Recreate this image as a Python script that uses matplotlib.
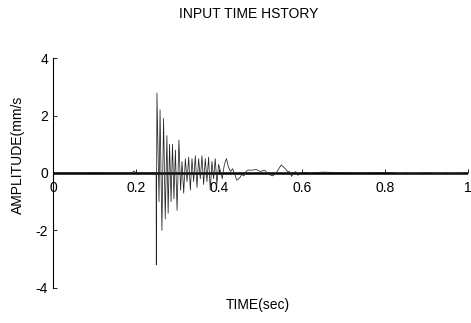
import numpy as np
import matplotlib.pyplot as plt

plt.rcParams['font.family'] = ['Liberation Sans', 'DejaVu Sans']
plt.rcParams['axes.unicode_minus'] = False

# time (sec) and amplitude
t = [0.0, 0.05, 0.1, 0.15, 0.19, 0.195, 0.2, 0.245, 0.2485, 0.249, 0.2505, 0.2555, 0.258,
     0.2625, 0.2665, 0.2705, 0.2745, 0.2775, 0.281, 0.2845, 0.288, 0.2915, 0.295, 0.299,
     0.3035, 0.3075, 0.311, 0.315, 0.319, 0.323, 0.327, 0.331, 0.335, 0.339, 0.343, 0.347,
     0.351, 0.355, 0.359, 0.363, 0.367, 0.371, 0.375, 0.379, 0.383, 0.387, 0.391, 0.395,
     0.399, 0.403, 0.408, 0.413, 0.418, 0.423, 0.428, 0.433, 0.438, 0.443, 0.45, 0.455,
     0.46, 0.465, 0.47, 0.48, 0.49, 0.5, 0.51, 0.52, 0.53, 0.54, 0.55, 0.56, 0.565, 0.57,
     0.575, 0.58, 0.585, 0.59, 0.6, 0.62, 0.65, 0.7, 0.75, 0.8, 0.85, 0.9, 0.95, 1.0]
amp = [0.0, 0.0, 0.01, 0.0, 0.0, 0.07, 0.0, 0.0, 0.0, -3.2, 2.78, -1.0, 2.2,
       -2.0, 1.9, -1.6, 1.3, -1.4, 1.0, -1.0, 1.0, -0.9, 0.8, -1.3,
       1.15, -0.6, 0.4, -0.7, 0.5, -0.3, 0.55, -0.6, 0.5, -0.3, 0.6, -0.5,
       0.5, -0.2, 0.6, -0.4, 0.5, -0.3, 0.55, -0.6, 0.4, -0.2, 0.5, -0.4,
       0.3, 0.1, -0.2, 0.3, 0.5, 0.2, 0.05, 0.15, -0.05, -0.25, -0.17, -0.05,
       -0.1, 0.05, 0.1, 0.1, 0.12, 0.05, 0.1, -0.05, -0.1, 0.05, 0.28, 0.15, 0.05, 0.05,
       -0.12, 0.0, 0.05, -0.08, 0.02, 0.0, 0.03, 0.01, 0.0, 0.02, -0.03, 0.0, -0.03, 0.0]

fig = plt.figure(figsize=(4.71, 3.23), dpi=100)
ax = fig.add_axes([0.1125, 0.1084, 0.881, 0.712])

ax.axhline(0, color='black', lw=1.8, zorder=1)
ax.plot(t, amp, color='#222222', lw=0.55, zorder=2)

ax.set_xlim(0, 1)
ax.set_ylim(-4, 4)
ax.set_xticks([0, 0.2, 0.4, 0.6, 0.8, 1])
ax.set_xticklabels(['0', '0.2', '0.4', '0.6', '0.8', '1'])
ax.set_yticks([-4, -2, 0, 2, 4])

ax.spines['top'].set_visible(False)
ax.spines['right'].set_visible(False)
ax.spines['bottom'].set_position(('data', 0))
ax.spines['bottom'].set_visible(False)
ax.spines['left'].set_linewidth(0.8)
ax.tick_params(axis='both', direction='in', length=3, width=0.6, labelsize=10)
ax.tick_params(axis='x', pad=6)

fig.text(0.527, 1 - 14 / 323, 'INPUT TIME HSTORY', ha='center', va='center', fontsize=10)
fig.text(0.548, 1 - 305 / 323, 'TIME(sec)', ha='center', va='center', fontsize=10)
fig.text(18 / 471, 1 - 155 / 323, 'AMPLITUDE(mm/s', ha='center', va='center',
         rotation=90, fontsize=10)

fig.savefig('out.png', dpi=100)
